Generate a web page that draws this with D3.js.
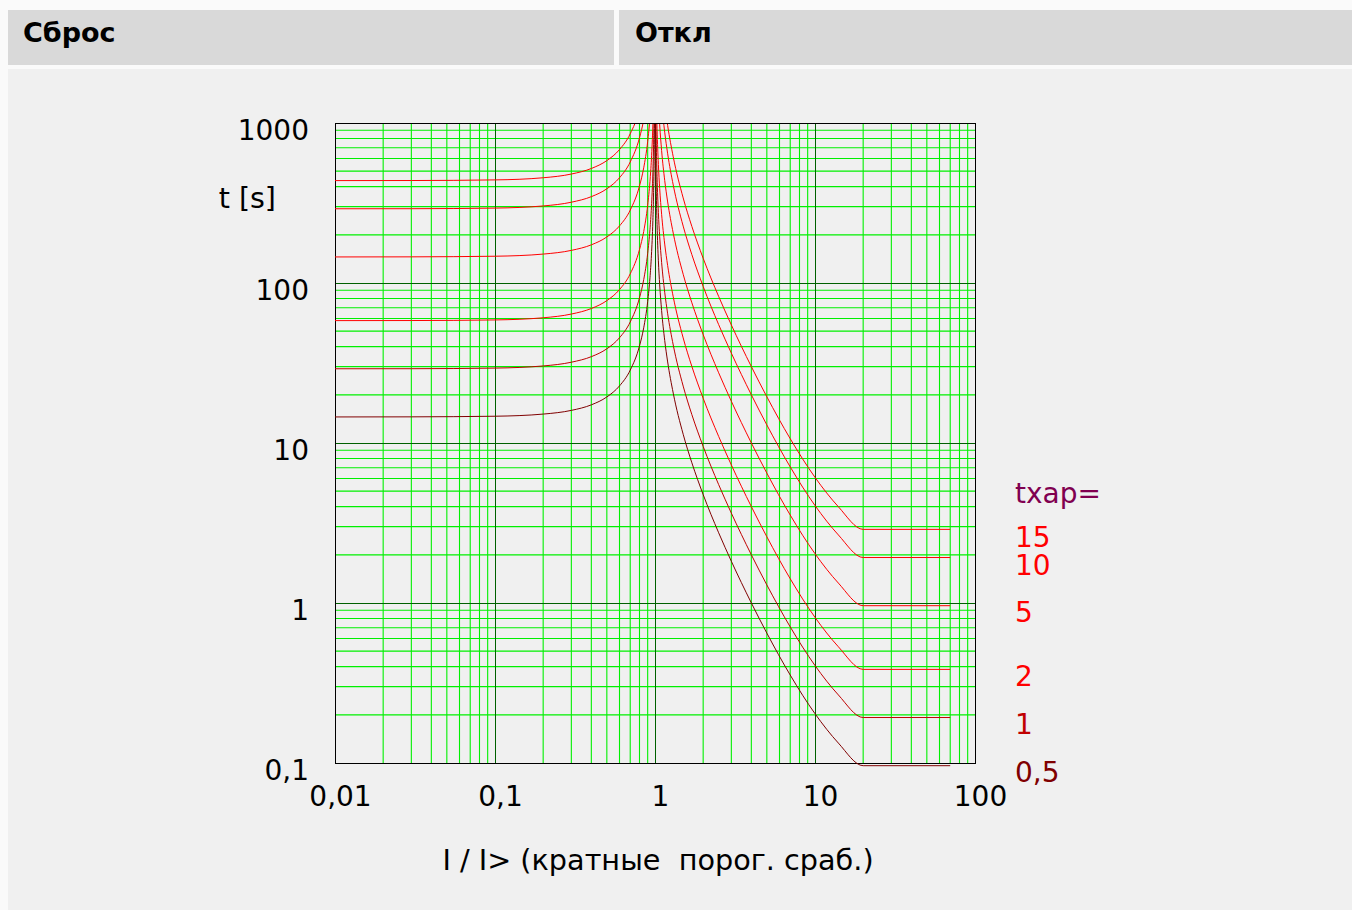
<!DOCTYPE html>
<html>
<head>
<meta charset="utf-8">
<script src="https://cdn.jsdelivr.net/npm/d3@7"></script>
<style>
  html, body { margin: 0; padding: 0; background: #fafafa; }
  svg { display: block; font-family: "DejaVu Sans", sans-serif; }
</style>
</head>
<body>
<script>
// current multiples (I / I>) where the curves were read
var resetI = [0.01, 0.03, 0.1, 0.2, 0.3, 0.4, 0.5, 0.6, 0.7, 0.8, 0.85, 0.9, 0.93, 0.95, 0.97, 0.98, 0.99, 0.995];
var tripI = [1.005, 1.01, 1.02, 1.03, 1.05, 1.07, 1.1, 1.15, 1.2, 1.3, 1.5, 1.7, 2, 2.5, 3, 4, 5, 7, 10, 14, 20, 70];

// reset times (s), left of I/I> = 1
var reset05 = [14.55, 14.57, 14.7, 15.16, 15.99, 17.32, 19.4, 22.74, 28.53, 40.42, 52.45, 76.6, 107.7, 149.3, 246.2, 367.4, 731, 1459];
var reset1 = [29.1, 29.13, 29.39, 30.31, 31.98, 34.64, 38.8, 45.47, 57.06, 80.83, 104.9, 153.2, 215.4, 298.5, 492.4, 734.8, 1462, 2917];
var reset2 = [58.2, 58.26, 58.78, 60.62, 63.96, 69.28, 77.6, 90.94, 114.1, 161.7, 209.8, 306.4, 430.8, 597, 984.8, 1470, 2924, 5834];
var reset5 = [145.5, 145.7, 147, 151.6, 159.9, 173.2, 194, 227.4, 285.3, 404.2, 524.5, 766, 1077, 1493, 2462, 3674, 7310, 14585];
var reset10 = [291, 291.3, 293.9, 303.1, 319.8, 346.4, 388, 454.7, 570.6, 808.3, 1049, 1532, 2154, 2985, 4924, 7348, 14620, 29170];
var reset15 = [436.5, 437, 440.9, 454.7, 479.7, 519.6, 582, 682.1, 855.9, 1212, 1574, 2298, 3231, 4478, 7386, 11022, 21930, 43755];

// trip times (s), right of I/I> = 1
var trip05 = [1407, 701.5, 349, 231.6, 137.6, 97.35, 67.2, 43.78, 32.1, 20.5, 11.34, 7.52, 4.761, 2.747, 1.824, 1.001, 0.6485, 0.3546, 0.2033, 0.1332, 0.0962, 0.0962];
var trip1 = [2813, 1403, 698, 463.2, 275.2, 194.7, 134.4, 87.56, 64.21, 40.99, 22.68, 15.04, 9.522, 5.493, 3.647, 2.002, 1.297, 0.7092, 0.4066, 0.2663, 0.1924, 0.1924];
var trip2 = [5626, 2806, 1396, 926.4, 550.4, 389.4, 268.8, 175.1, 128.4, 81.98, 45.36, 30.08, 19.04, 10.99, 7.294, 4.004, 2.594, 1.418, 0.8132, 0.5326, 0.3848, 0.3848];
var trip5 = [14065, 7015, 3490, 2316, 1376, 973.5, 672, 437.8, 321, 205, 113.4, 75.2, 47.61, 27.47, 18.24, 10.01, 6.485, 3.546, 2.033, 1.332, 0.962, 0.962];
var trip10 = [28130, 14030, 6980, 4632, 2752, 1947, 1344, 875.6, 642.1, 409.9, 226.8, 150.4, 95.22, 54.93, 36.47, 20.02, 12.97, 7.092, 4.066, 2.663, 1.924, 1.924];
var trip15 = [42195, 21045, 10470, 6948, 4128, 2921, 2016, 1313, 963.2, 614.9, 340.2, 225.6, 142.8, 82.4, 54.7, 30.03, 19.46, 10.64, 6.099, 3.995, 2.886, 2.886];

var tcharLabels = ['0,5', '1', '2', '5', '10', '15'];
var tcharColors = ['#800000', '#c00000', '#ff0000', '#ff0000', '#ff0000', '#ff0000'];
var resetSeries = [reset05, reset1, reset2, reset5, reset10, reset15];
var tripSeries = [trip05, trip1, trip2, trip5, trip10, trip15];

var xMajor = [0.01, 0.1, 1, 10, 100];
var yMajor = [0.1, 1, 10, 100, 1000];

var W = 1352, H = 910;
var plot = { left: 335, right: 975, top: 123, bottom: 763 };

var svg = d3.select('body').append('svg')
  .attr('width', W)
  .attr('height', H);

// header cells
svg.append('rect').attr('x', 8).attr('y', 10).attr('width', 606).attr('height', 55).attr('fill', '#d9d9d9');
svg.append('rect').attr('x', 619).attr('y', 10).attr('width', 733).attr('height', 55).attr('fill', '#d9d9d9');
svg.append('text').attr('x', 23).attr('y', 42).attr('font-size', 27).attr('font-weight', 'bold').text('Сброс');
svg.append('text').attr('x', 635).attr('y', 42).attr('font-size', 27).attr('font-weight', 'bold').text('Откл');

// panel
svg.append('rect').attr('x', 8).attr('y', 69).attr('width', W - 8).attr('height', H - 69).attr('fill', '#f0f0f0');

var x = d3.scaleLog().domain([0.01, 100]).range([plot.left, plot.right]);
var y = d3.scaleLog().domain([0.1, 1000]).range([plot.bottom, plot.top]);

var fmt = function (d) { return String(d).replace('.', ','); };

function isMajor(v) {
  var l = Math.log10(v);
  return Math.abs(l - Math.round(l)) < 1e-9;
}

// grid
var grid = svg.append('g');
grid.selectAll('.vminor').data(x.ticks().filter(function (d) { return !isMajor(d); }))
  .enter().append('line')
  .attr('x1', function (d) { return x(d); })
  .attr('x2', function (d) { return x(d); })
  .attr('y1', plot.top).attr('y2', plot.bottom)
  .attr('stroke', '#00f000').attr('stroke-width', 1.1);
grid.selectAll('.hminor').data(y.ticks().filter(function (d) { return !isMajor(d); }))
  .enter().append('line')
  .attr('y1', function (d) { return y(d); })
  .attr('y2', function (d) { return y(d); })
  .attr('x1', plot.left).attr('x2', plot.right)
  .attr('stroke', '#00f000').attr('stroke-width', 1.1);
grid.selectAll('.vmajor').data(xMajor)
  .enter().append('line')
  .attr('x1', function (d) { return Math.round(x(d)) + 0.5; })
  .attr('x2', function (d) { return Math.round(x(d)) + 0.5; })
  .attr('y1', plot.top).attr('y2', plot.bottom)
  .attr('stroke', '#006000').attr('stroke-width', 1);
grid.selectAll('.hmajor').data(yMajor)
  .enter().append('line')
  .attr('y1', function (d) { return Math.round(y(d)) + 0.5; })
  .attr('y2', function (d) { return Math.round(y(d)) + 0.5; })
  .attr('x1', plot.left).attr('x2', plot.right)
  .attr('stroke', '#006000').attr('stroke-width', 1);
grid.append('rect')
  .attr('x', plot.left + 0.5).attr('y', plot.top + 0.5)
  .attr('width', plot.right - plot.left).attr('height', plot.bottom - plot.top)
  .attr('fill', 'none').attr('stroke', '#000');

// curves, clipped at the top of the plot only
svg.append('clipPath').attr('id', 'clip')
  .append('rect').attr('x', plot.left).attr('y', plot.top + 1)
  .attr('width', plot.right - plot.left).attr('height', plot.bottom - plot.top + 10);

var line = d3.line()
  .x(function (d) { return x(d[0]); })
  .y(function (d) { return y(d[1]); })
  .curve(d3.curveMonotoneX);

var curves = svg.append('g').attr('clip-path', 'url(#clip)');
for (var i = 5; i >= 0; i--) {
  curves.append('path')
    .datum(d3.zip(resetI, resetSeries[i]))
    .attr('d', line)
    .attr('fill', 'none').attr('stroke', tcharColors[i]).attr('stroke-width', 1);
  curves.append('path')
    .datum(d3.zip(tripI, tripSeries[i]))
    .attr('d', line)
    .attr('fill', 'none').attr('stroke', tcharColors[i]).attr('stroke-width', 1);
}

// axes
var xAxis = d3.axisBottom(x).tickValues(xMajor).tickSize(0).tickPadding(23).tickFormat(fmt);
var gx = svg.append('g').attr('transform', 'translate(0,' + plot.bottom + ')').call(xAxis);
gx.select('.domain').remove();
gx.selectAll('text').attr('font-size', 28).attr('font-family', '"DejaVu Sans", sans-serif')
  .attr('fill', '#000').attr('dx', 5);

var yAxis = d3.axisLeft(y).tickValues(yMajor).tickSize(0).tickPadding(26).tickFormat(fmt);
var gy = svg.append('g').attr('transform', 'translate(' + plot.left + ',0)').call(yAxis);
gy.select('.domain').remove();
gy.selectAll('text').attr('font-size', 28).attr('font-family', '"DejaVu Sans", sans-serif')
  .attr('fill', '#000').attr('y', 8);

// axis titles
svg.append('text').attr('x', 276).attr('y', 208).attr('text-anchor', 'end')
  .attr('font-size', 28.5).text('t [s]');
svg.append('text').attr('x', 658).attr('y', 870).attr('text-anchor', 'middle')
  .attr('font-size', 28.7).style('white-space', 'pre').text('I / I> (кратные  порог. сраб.)');

// tchar labels
var labelY = [782, 734, 686, 622, 575, 547];
svg.append('text').attr('x', 1015).attr('y', 503).attr('font-size', 28)
  .attr('fill', '#800050').text('tхар=');
svg.selectAll('.tlabel').data(tcharLabels).enter().append('text')
  .attr('x', 1015)
  .attr('y', function (d, i) { return labelY[i]; })
  .attr('font-size', 28)
  .attr('fill', function (d, i) { return tcharColors[i]; })
  .text(function (d) { return d; });
</script>
</body>
</html>
